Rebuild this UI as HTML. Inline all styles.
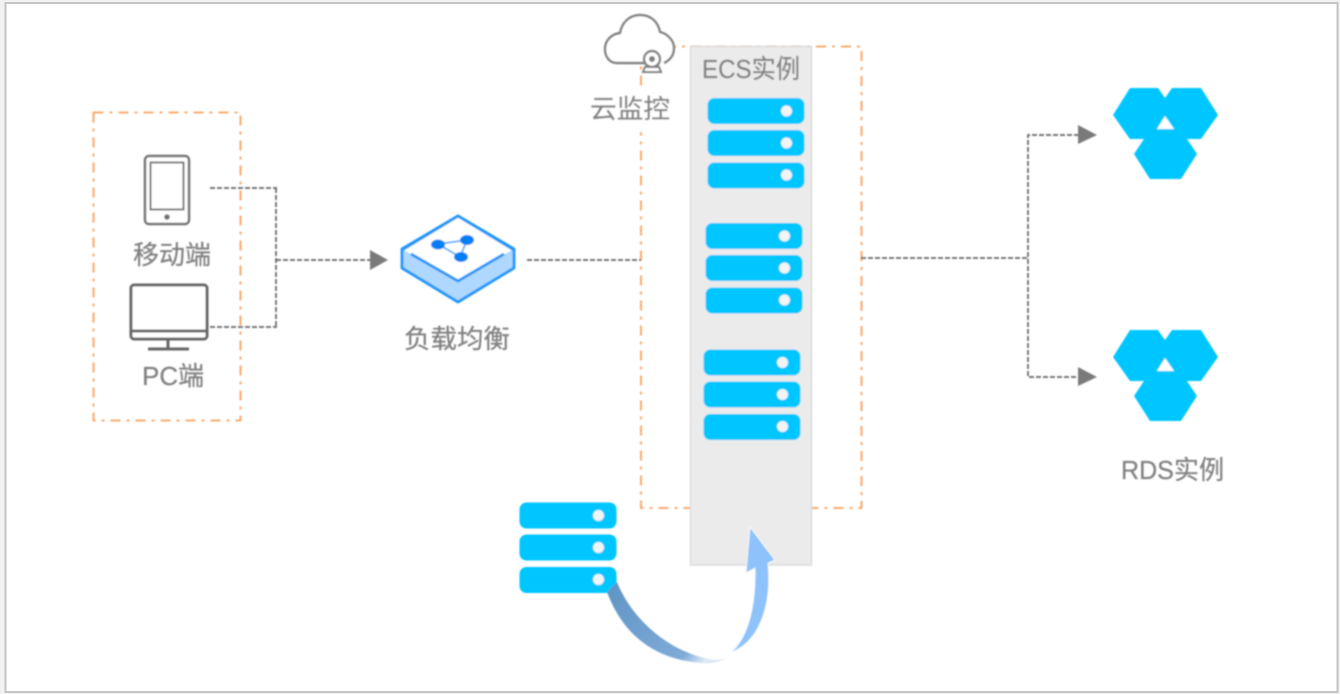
<!DOCTYPE html>
<html>
<head>
<meta charset="utf-8">
<style>
html,body{margin:0;padding:0;background:#f2f2f2;width:1340px;height:694px;overflow:hidden}
svg{display:block}
text{font-family:"Liberation Sans","Noto Sans CJK SC",sans-serif;fill:#808080;stroke:#808080;stroke-width:0.25px;font-size:26px}
</style>
</head>
<body>
<svg width="1340" height="694" viewBox="0 0 1340 694" xmlns="http://www.w3.org/2000/svg">
<defs>
<filter id="b" x="-5%" y="-5%" width="110%" height="110%"><feGaussianBlur stdDeviation="0.7"/></filter>
<g id="srv">
  <rect x="0" y="0" width="97" height="26" rx="7" fill="#00c6ff"/>
  <circle cx="79" cy="13" r="5.500" fill="#f2f4f6"/>
  <rect x="0" y="32" width="97" height="26" rx="7" fill="#00c6ff"/>
  <circle cx="79" cy="45" r="5.500" fill="#f2f4f6"/>
  <rect x="0" y="64.500" width="97" height="26" rx="7" fill="#00c6ff"/>
  <circle cx="79" cy="77" r="5.500" fill="#f2f4f6"/>
</g>
<g id="hex">
  <polygon points="1130,88 1158,88 1165,98 1172,88 1201,88 1218,115 1201,139 1187,139 1197,154 1181,179 1150,179 1134,154 1144,139 1130,139 1113,115" fill="#00c6ff"/>
  <polygon points="1165,116 1174,129 1157,129" fill="#fff"/>
</g>
<linearGradient id="ar" x1="0" y1="0" x2="1" y2="0.6">
  <stop offset="0" stop-color="#5f94c4"/><stop offset="0.85" stop-color="#7eaad8"/><stop offset="1" stop-color="#dbe8f6"/>
</linearGradient>
</defs>
<rect x="5.500" y="3" width="1332" height="689" fill="#fff" stroke="#c4c4c4" stroke-width="2"/>
<g filter="url(#b)">
  <!-- orange boxes -->
  <rect x="93.500" y="112.500" width="147" height="308" fill="none" stroke="#fb9f58" stroke-width="1.800" stroke-dasharray="10 6 3 6"/>
  <rect x="641" y="46.500" width="220.500" height="461.500" fill="none" stroke="#fb9f58" stroke-width="1.800" stroke-dasharray="10 6 3 6"/>
  <rect x="586" y="88" width="90" height="44" fill="#fff"/>
  <!-- connectors -->
  <g fill="none" stroke="#666" stroke-width="1.700" stroke-dasharray="5 2">
    <path d="M210 188H277M210 327H277"/>
    <path d="M276 188V327"/>
    <path d="M276 260H372"/>
    <path d="M527 260H641"/>
    <path d="M861 258H1028"/>
    <path d="M1079 135H1028V377H1079"/>
  </g>
  <polygon points="370,250 388,260 370,270" fill="#7a7a7a"/>
  <polygon points="1078,125 1097,135 1078,144" fill="#7a7a7a"/>
  <polygon points="1078,367 1097,377 1078,386" fill="#7a7a7a"/>
  <!-- tablet -->
  <rect x="145" y="156" width="44" height="68" rx="4" fill="#fff" stroke="#707070" stroke-width="2.500"/>
  <rect x="150.500" y="162.500" width="33" height="47" fill="#fff" stroke="#707070" stroke-width="2"/>
  <circle cx="167" cy="217" r="2.800" fill="#707070"/>
  <!-- monitor -->
  <rect x="131" y="285" width="76" height="54" rx="3" fill="#fff" stroke="#666" stroke-width="3"/>
  <path d="M131 331H207" stroke="#666" stroke-width="3"/>
  <path d="M168 340V349M148 349H189" stroke="#666" stroke-width="3" fill="none"/>
  <text x="133" y="264">移动端</text>
  <text x="142" y="385">PC端</text>
  <!-- load balancer -->
  <polygon points="402,249 458,216 514,249 514,268 458,302 402,268" fill="#aed8ff" stroke="#1f96fb" stroke-width="2.800" stroke-linejoin="round"/>
  <polygon points="402,249 458,216 514,249 458,281" fill="#fff"/>
  <path d="M411 254L458 281L504 254" fill="none" stroke="#1f96fb" stroke-width="2.800"/>
  <path d="M402 250L458 216L514 250" fill="none" stroke="#1f96fb" stroke-width="2.800"/>
  <polygon points="438,244 467,240 460,257" fill="none" stroke="#4fadfa" stroke-width="1.800"/>
  <ellipse cx="438" cy="244.500" rx="7" ry="5" fill="#007ff5"/>
  <ellipse cx="467" cy="240" rx="7" ry="5" fill="#007ff5"/>
  <ellipse cx="461" cy="257" rx="7" ry="5" fill="#007ff5"/>
  <text x="404" y="348" textLength="106" lengthAdjust="spacingAndGlyphs">负载均衡</text>
  <!-- ECS panel -->
  <rect x="690.500" y="46.500" width="121" height="518.500" fill="#ebebeb" stroke="#d9d9d9" stroke-width="1.400"/>
  <text x="702" y="78" textLength="98" lengthAdjust="spacingAndGlyphs">ECS实例</text>
  <use href="#srv" x="707.500" y="98"/>
  <use href="#srv" x="705.500" y="223"/>
  <use href="#srv" x="703.500" y="349.500"/>
  <use href="#srv" x="519.500" y="502.500"/>
  <!-- cloud -->
  <path d="M646 63H617C609 63 605 56 605 49C605 40 612 34 620 33C622 22 630 15 640 15C651 15 658 22 660 32C668 34 674 41 674 48C674 55 670 60 664 63" fill="#fff" stroke="#808080" stroke-width="2.400"/>
  <circle cx="652" cy="59" r="8" fill="#fff" stroke="#808080" stroke-width="2.400"/>
  <circle cx="652" cy="59" r="3" fill="#808080"/>
  <path d="M645 67L643 72H661L659 67Z" fill="#fff" stroke="#808080" stroke-width="2"/>
  <text x="590" y="118" textLength="80" lengthAdjust="spacingAndGlyphs">云监控</text>
  <!-- RDS -->
  <use href="#hex"/>
  <use href="#hex" y="242"/>
  <text x="1121" y="479" textLength="103" lengthAdjust="spacingAndGlyphs">RDS实例</text>
  <!-- curved arrow -->
  <path d="M607 592L617 582C630 615 665 652 714 660C722 660 728 658 732 654C722 662 712 664 702 663C660 660 625 640 607 592Z" fill="url(#ar)"/>
  <path d="M730 653C744 642 756 615 755 568L746 573L750 527L775 560L768 563C772 605 760 642 730 653Z" fill="#8ec2fb" stroke="#fff" stroke-width="0.800"/>
</g>
</svg>
</body>
</html>
